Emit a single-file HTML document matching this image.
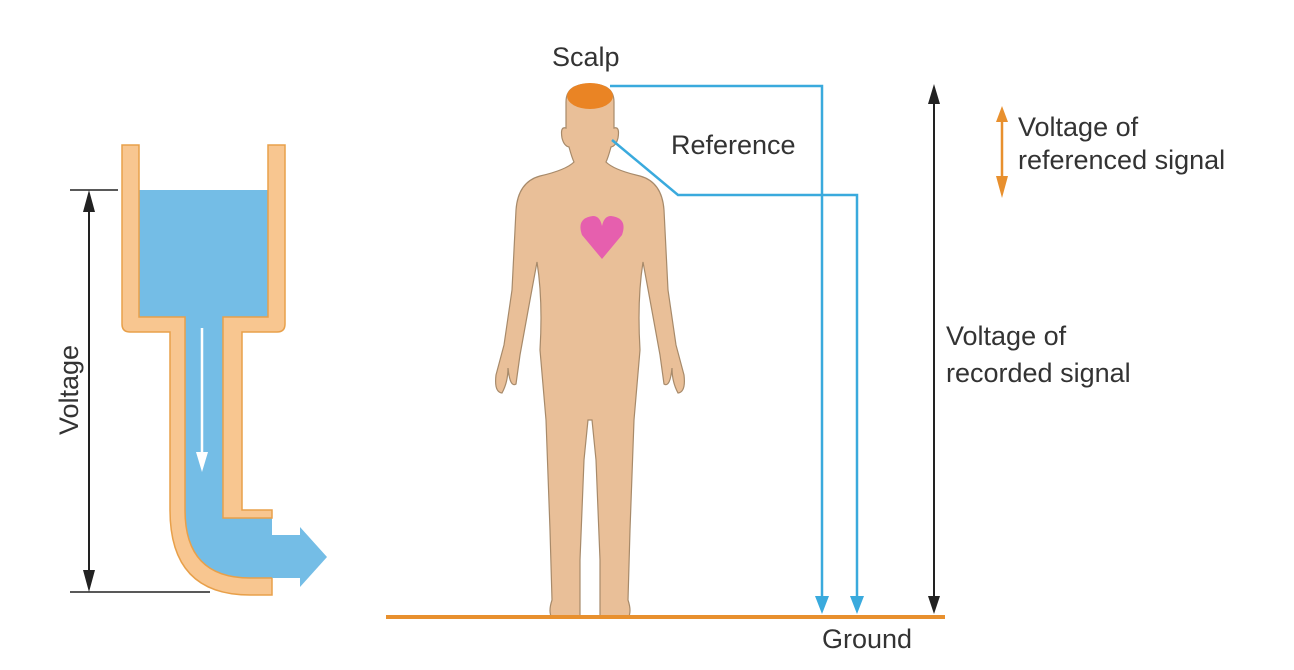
<!DOCTYPE html>
<html><head><style>
html,body{margin:0;padding:0;background:#fff;}
svg{display:block;}
text{font-family:"Liberation Sans",Arial,sans-serif;fill:#333;font-size:27px;}
</style></head><body>
<svg width="1294" height="670" viewBox="0 0 1294 670" xmlns="http://www.w3.org/2000/svg">
<path d="M138 190 L268 190 L268 317 L223 317 L223 518 L272 518 L272 578 L250 578 Q185 578 185 510 L185 317 L138 317 Z" fill="#74bde6"/>
<path d="M122 145 L139 145 L139 317 L185 317 L185 510 Q185 578 250 578 L272 578 L272 595 L250 595 Q170 595 170 510 L170 332 L130 332 Q122 332 122 324 Z" fill="#f8c690" stroke="#e8a04a" stroke-width="1.5"/>
<path d="M268 145 L285 145 L285 324 Q285 332 277 332 L242 332 L242 510 L272 510 L272 518 L223 518 L223 317 L268 317 Z" fill="#f8c690" stroke="#e8a04a" stroke-width="1.5"/>
<path d="M272 535 L300 535 L300 527 L327 557 L300 587 L300 578 L272 578 Z" fill="#74bde6"/>
<line x1="202" y1="328" x2="202" y2="455" stroke="#fff" stroke-width="2.5"/>
<path d="M196 452 L208 452 L202 472 Z" fill="#fff"/>
<line x1="70" y1="190" x2="118" y2="190" stroke="#222" stroke-width="1.5"/>
<line x1="70" y1="592" x2="210" y2="592" stroke="#222" stroke-width="1.5"/>
<line x1="89" y1="200" x2="89" y2="582" stroke="#222" stroke-width="2"/>
<path d="M83 212 L95 212 L89 190 Z M83 570 L95 570 L89 592 Z" fill="#222"/>
<text transform="translate(78,390) rotate(-90)" text-anchor="middle">Voltage</text>

<path d="M566 102 Q566 84 590 84 Q614 84 614 102 L614 128 Q620 126 618 138 Q616 146 611 147 Q608 158 606 162 Q614 170 640 176 Q662 182 664 210 L668 290 L676 345 L684 375 Q686 392 678 393 Q672 382 672 368 Q670 388 664 384 L660 355 L650 300 L643 262 Q637 300 640 350 L634 420 Q632 480 630 530 L628 600 Q632 612 628 618 L600 618 L600 560 L596 460 L592 420 L588 420 L584 460 L580 560 L580 618 L552 618 Q548 612 552 600 L550 530 Q548 480 546 420 L540 350 Q543 300 537 262 L530 300 L520 355 L516 384 Q510 388 508 368 Q508 382 502 393 Q494 392 496 375 L504 345 L512 290 L516 210 Q518 182 540 176 Q566 170 574 162 Q572 158 569 147 Q564 146 562 138 Q560 126 566 128 Z" fill="#e9bf98" stroke="#a78a6a" stroke-width="1.2"/>
<ellipse cx="590" cy="96" rx="23" ry="13" fill="#ea8424"/>
<path d="M605 258 Q590 240 587 236 Q584 240 569 258 Z" fill="none"/>
<path d="M604 259 L624 235 Q630 218 613 216 Q606 216 604 226 Q602 216 595 216 Q578 218 584 235 Z" fill="#e65fae" transform="translate(-2,0)"/>

<polyline points="610,86 822,86 822,600" fill="none" stroke="#3aaadd" stroke-width="2.5"/>
<polyline points="612,140 678,195 857,195 857,600" fill="none" stroke="#3aaadd" stroke-width="2.5"/>
<path d="M815 596 L829 596 L822 614 Z M850 596 L864 596 L857 614 Z" fill="#3aaadd"/>
<line x1="386" y1="617" x2="945" y2="617" stroke="#e8902e" stroke-width="4"/>
<line x1="934" y1="100" x2="934" y2="600" stroke="#222" stroke-width="2"/>
<path d="M928 104 L940 104 L934 84 Z M928 596 L940 596 L934 614 Z" fill="#222"/>
<line x1="1002" y1="118" x2="1002" y2="188" stroke="#e8902e" stroke-width="2.5"/>
<path d="M996 122 L1008 122 L1002 106 Z M996 176 L1008 176 L1002 198 Z" fill="#e8902e"/>

<text x="552" y="66" font-size="26">Scalp</text>
<text x="671" y="154">Reference</text>
<text x="1018" y="136">Voltage of</text>
<text x="1018" y="169">referenced signal</text>
<text x="946" y="345">Voltage of</text>
<text x="946" y="382">recorded signal</text>
<text x="822" y="648">Ground</text>
</svg>
</body></html>
